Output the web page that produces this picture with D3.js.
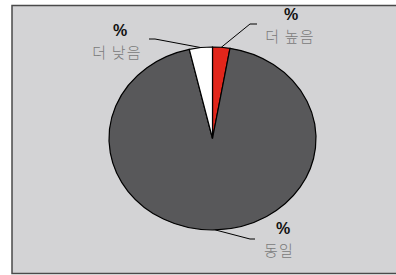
<!DOCTYPE html>
<html><head><meta charset="utf-8">
<script src="https://cdn.jsdelivr.net/npm/d3@7"></script>
<style>body{margin:0;background:#fff}svg{display:block}</style>
</head><body>
<svg id="c" width="396" height="275"></svg>
<script>
const categories = ["더 높음", "동일", "더 낮음"];
const values = [2.7, 93.7, 3.6];
const valueLabels = ["%", "%", "%"];
const colors = ["#e2261b", "#58585a", "#ffffff"];

const svg = d3.select("#c");
const W = 396, H = 275;
svg.append("rect").attr("x", 12).attr("y", 5.5).attr("width", W).attr("height", 268)
  .attr("fill", "#d3d3d5").attr("stroke", "#4a4a4a").attr("stroke-width", 1.5);

const cx = 212.5, cy = 138.5, rx = 103.5, ry = 91.5;
const pie = d3.pie().sort(null).value(d => d)(values);
const arc = d3.arc().innerRadius(0).outerRadius(rx);
const g = svg.append("g").attr("transform", `translate(${cx},${cy}) scale(1,${ry/rx})`);
g.selectAll("path").data(pie).join("path")
  .attr("d", arc).attr("fill", (d,i) => colors[i])
  .attr("stroke", "#000").attr("stroke-width", 1.2).attr("vector-effect", "non-scaling-stroke");

const layout = [
  {pct:[291, 20], txt:[290, 41.5], bend:[250, 24], end:[257, 24]},
  {pct:[283, 234], txt:[279, 256], bend:[250, 239], end:[255, 239]},
  {pct:[120, 36], txt:[117, 58], bend:[155, 39], end:[149, 39]}
];
pie.forEach((d, i) => {
  const a = (d.startAngle + d.endAngle) / 2;
  const p0 = [cx + rx * Math.sin(a), cy - ry * Math.cos(a)];
  const L = layout[i];
  svg.append("polyline").attr("points", [p0, L.bend, L.end].map(p => p.join(",")).join(" "))
    .attr("fill", "none").attr("stroke", "#000").attr("stroke-width", 1);
  svg.append("text").attr("x", L.pct[0]).attr("y", L.pct[1]).attr("text-anchor", "middle")
    .attr("font-family", "Liberation Sans, Arial, sans-serif").attr("font-weight", "bold")
    .attr("font-size", 16).attr("fill", "#111").text(valueLabels[i]);
  svg.append("text").attr("x", L.txt[0]).attr("y", L.txt[1]).attr("text-anchor", "middle")
    .attr("font-family", "Noto Sans CJK KR, sans-serif").attr("font-weight", 300)
    .attr("letter-spacing", 1.2)
    .attr("font-size", 15).attr("fill", "#7a7a7a").text(categories[i]);
});
</script>
</body></html>
